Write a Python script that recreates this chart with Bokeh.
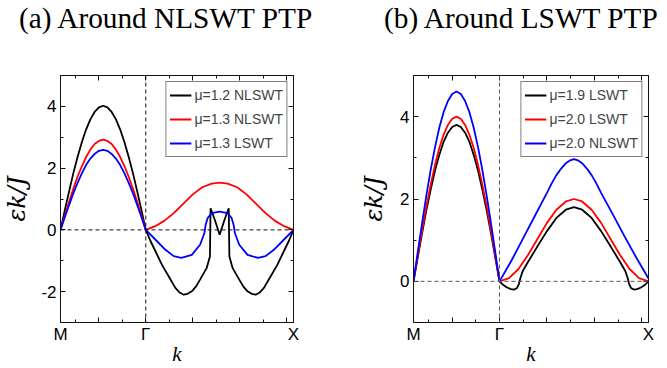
from bokeh.plotting import figure
from bokeh.models import (FixedTicker, LinearAxis, Span, Legend, LegendItem,
                          Range1d, Div)
from bokeh.layouts import row, column
from bokeh.embed import file_html
from bokeh.resources import INLINE

# ---------------- data ----------------
K_M, K_G, K_X = -1.8138, 0.0, 3.1416
sym_labels = ["M", "Γ", "X"]
k_major = [-1.0, 1.0, 2.0, 3.0]
k_minor = [-1.5, -0.5, 0.5, 1.5, 2.5]

# M -> Gamma sampling
k_mg = [-1.8138, -1.723, -1.632, -1.542, -1.451, -1.360, -1.270, -1.179, -1.088, -0.998,
        -0.907, -0.816, -0.726, -0.635, -0.544, -0.453, -0.363, -0.272, -0.181, -0.091, 0.0]

# panel (a): around NLSWT PTP
a_black_mg = [0, 0.63, 1.24, 1.83, 2.36, 2.84, 3.25, 3.58, 3.82, 3.97, 4.02,
              3.97, 3.82, 3.58, 3.25, 2.84, 2.36, 1.83, 1.24, 0.63, 0]
a_red_mg = [0, 0.46, 0.90, 1.33, 1.72, 2.06, 2.36, 2.60, 2.78, 2.88, 2.92,
            2.88, 2.78, 2.60, 2.36, 2.06, 1.72, 1.33, 0.90, 0.46, 0]
a_blue_mg = [0, 0.41, 0.80, 1.18, 1.52, 1.83, 2.10, 2.31, 2.46, 2.56, 2.59,
             2.56, 2.46, 2.31, 2.10, 1.83, 1.52, 1.18, 0.80, 0.41, 0]

a_black_gx_k = [0, 0.1, 0.208, 0.35, 0.489, 0.629, 0.72, 0.804, 0.89, 0.979, 1.07, 1.154,
                1.294, 1.364, 1.378, 1.469, 1.571, 1.673, 1.764, 1.778, 1.848, 1.988, 2.072,
                2.163, 2.252, 2.338, 2.422, 2.513, 2.653, 2.792, 2.934, 3.042, 3.1416]
a_black_gx = [0, -0.36, -0.70, -1.15, -1.51, -1.88, -2.03, -2.10, -2.07, -1.99, -1.83, -1.61,
              -1.24, -0.86, 0.70, 0.32, -0.16, 0.32, 0.70, -0.86, -1.24, -1.61, -1.83,
              -1.99, -2.07, -2.10, -2.03, -1.88, -1.51, -1.15, -0.70, -0.36, 0]
a_red_gx_k = [0, 0.2, 0.4, 0.6, 0.8, 1.0, 1.2, 1.4, 1.571, 1.742, 1.942, 2.142, 2.342,
              2.542, 2.742, 2.942, 3.1416]
a_red_gx = [0, 0.12, 0.30, 0.55, 0.85, 1.15, 1.38, 1.50, 1.53, 1.50, 1.38, 1.15, 0.85,
            0.55, 0.30, 0.12, 0]
a_blue_gx_k = [0, 0.208, 0.418, 0.595, 0.755, 0.979, 1.154, 1.246, 1.273, 1.315, 1.399,
               1.571, 1.743, 1.827, 1.869, 1.896, 1.988, 2.163, 2.387, 2.547, 2.724,
               2.934, 3.1416]
a_blue_gx = [0, -0.32, -0.645, -0.85, -0.91, -0.81, -0.48, -0.11, 0.16, 0.38, 0.54,
             0.59, 0.54, 0.38, 0.16, -0.11, -0.48, -0.81, -0.91, -0.85, -0.645, -0.32, 0]
a_labels = ["μ=1.2 NLSWT", "μ=1.3 NLSWT", "μ=1.3 LSWT"]

# panel (b): around LSWT PTP
b_black_mg = [0, 0.59, 1.17, 1.73, 2.23, 2.69, 3.07, 3.39, 3.61, 3.75, 3.80,
              3.75, 3.61, 3.39, 3.07, 2.69, 2.23, 1.73, 1.17, 0.59, 0]
b_red_mg = [0, 0.63, 1.24, 1.82, 2.35, 2.83, 3.24, 3.56, 3.80, 3.95, 4.00,
            3.95, 3.80, 3.56, 3.24, 2.83, 2.35, 1.82, 1.24, 0.63, 0]
b_blue_mg = [0, 0.72, 1.42, 2.09, 2.71, 3.26, 3.73, 4.11, 4.38, 4.55, 4.61,
             4.55, 4.38, 4.11, 3.73, 3.26, 2.71, 2.09, 1.42, 0.72, 0]

b_black_gx_k = [0, 0.08, 0.16, 0.24, 0.31, 0.37, 0.41, 0.44, 0.49, 0.6, 0.8, 1.0, 1.2, 1.4,
                1.571, 1.742, 1.942, 2.142, 2.342, 2.542, 2.652, 2.702, 2.732, 2.772, 2.832,
                2.902, 2.982, 3.062, 3.1416]
b_black_gx = [0, -0.09, -0.15, -0.19, -0.20, -0.16, -0.06, 0.08, 0.25, 0.47, 0.85, 1.22,
              1.54, 1.74, 1.80, 1.74, 1.54, 1.22, 0.85, 0.47, 0.25, 0.08, -0.06, -0.16,
              -0.20, -0.19, -0.15, -0.09, 0]
b_red_gx_k = [0, 0.2, 0.4, 0.6, 0.8, 1.0, 1.2, 1.4, 1.571, 1.742, 1.942, 2.142, 2.342,
              2.542, 2.742, 2.942, 3.1416]
b_red_gx = [0, 0.08, 0.30, 0.64, 1.03, 1.42, 1.74, 1.94, 2.00, 1.94, 1.74, 1.42, 1.03,
            0.64, 0.30, 0.08, 0]
b_blue_gx_k = [0, 0.25, 0.5, 0.75, 1.0, 1.1, 1.2, 1.3, 1.4, 1.49, 1.571, 1.652, 1.742,
               1.842, 1.942, 2.042, 2.142, 2.392, 2.642, 2.892, 3.1416]
b_blue_gx = [0, 0.50, 1.05, 1.60, 2.15, 2.38, 2.58, 2.74, 2.87, 2.94, 2.97, 2.94, 2.87,
             2.74, 2.58, 2.38, 2.15, 1.62, 1.08, 0.56, 0.07]
b_labels = ["μ=1.9 LSWT", "μ=2.0 LSWT", "μ=2.0 NLSWT"]

COLORS = ["#000000", "#ff0000", "#0000ff"]
SANS = "Liberation Sans"
SERIF = "Liberation Serif"
HEAD = 40          # height of the title strip
FRAME_H = 248
BOTTOM = 45


def style_axis(ax):
    ax.major_tick_in = 5
    ax.major_tick_out = 0
    ax.minor_tick_in = 3
    ax.minor_tick_out = 0
    ax.axis_line_color = "#111111"
    ax.major_tick_line_color = "#111111"
    ax.minor_tick_line_color = "#111111"
    ax.axis_line_width = 1
    ax.major_label_text_font = SANS
    ax.major_label_text_font_size = "17px"
    ax.major_label_text_color = "black"


def build(y_lo_hi, y_major, y_minor, series, labels, dash_color,
          left, right, frame_w, ylab_standoff):
    p = figure(width=left + frame_w + right, height=35 + FRAME_H + BOTTOM,
               x_range=Range1d(K_M, K_X), y_range=Range1d(*y_lo_hi),
               x_axis_type=None, y_axis_type=None,
               output_backend="svg", toolbar_location=None,
               min_border_left=left, min_border_right=right,
               min_border_top=35, min_border_bottom=BOTTOM)
    p.outline_line_color = None
    p.grid.visible = False
    p.background_fill_color = "white"
    p.border_fill_color = "white"

    x_ticks = [K_M, k_major[0], K_G] + k_major[1:] + [K_X]
    over = {t: "" for t in x_ticks}
    over[K_M], over[K_G], over[K_X] = sym_labels
    xb = LinearAxis(ticker=FixedTicker(ticks=x_ticks, minor_ticks=k_minor),
                    major_label_overrides=over, axis_label="k")
    style_axis(xb)
    xb.major_label_standoff = 2
    xb.axis_label_standoff = -5
    xb.axis_label_text_font = SERIF
    xb.axis_label_text_font_style = "italic"
    xb.axis_label_text_font_size = "21px"
    xb.axis_label_text_color = "black"
    p.add_layout(xb, "below")

    xt = LinearAxis(ticker=FixedTicker(ticks=x_ticks, minor_ticks=k_minor),
                    major_label_overrides={t: "" for t in x_ticks})
    style_axis(xt)
    xt.major_label_text_font_size = "0px"
    xt.major_label_standoff = 0
    p.add_layout(xt, "above")

    yl = LinearAxis(ticker=FixedTicker(ticks=y_major, minor_ticks=y_minor),
                    major_label_overrides={t: str(t) for t in y_major},
                    axis_label="εk/J")
    style_axis(yl)
    yl.major_label_standoff = 4
    yl.axis_label_standoff = ylab_standoff
    yl.axis_label_text_font = "DejaVu Serif"
    yl.axis_label_text_font_style = "italic"
    yl.axis_label_text_font_size = "24px"
    yl.axis_label_text_color = "black"
    p.add_layout(yl, "left")

    yr = LinearAxis(ticker=FixedTicker(ticks=y_major, minor_ticks=y_minor),
                    major_label_overrides={t: "" for t in y_major})
    style_axis(yr)
    yr.major_label_text_font_size = "0px"
    yr.major_label_standoff = 0
    p.add_layout(yr, "right")

    p.add_layout(Span(location=0, dimension="width", line_dash="4 3",
                      line_color=dash_color, line_width=1))
    p.add_layout(Span(location=K_G, dimension="height", line_dash="4 3",
                      line_color=dash_color, line_width=1))

    items = []
    for (kk, ee), col, lab in zip(series, COLORS, labels):
        r = p.line(kk, ee, line_color=col, line_width=1.8)
        items.append(LegendItem(label=lab, renderers=[r]))
    leg = Legend(items=items, location="top_right", margin=6, padding=3, spacing=4,
                 glyph_width=22, glyph_height=20, label_height=20, label_standoff=3,
                 label_text_font=SANS, label_text_font_size="14px",
                 border_line_color="black", border_line_width=1,
                 background_fill_color="white", background_fill_alpha=1)
    p.add_layout(leg)
    return p


def head(text, width, pad_left):
    html = ('<div style="padding:4px 0 0 %dpx;font-family:\'Liberation Serif\',serif;'
            'font-size:29.3px;line-height:1;white-space:nowrap;color:#000;">%s</div>'
            % (pad_left, text))
    return Div(text=html, width=width, height=HEAD, margin=0)


series_a = [
    (k_mg + a_black_gx_k[1:], a_black_mg + a_black_gx[1:]),
    (k_mg + a_red_gx_k[1:], a_red_mg + a_red_gx[1:]),
    (k_mg + a_blue_gx_k[1:], a_blue_mg + a_blue_gx[1:]),
]
series_b = [
    (k_mg + b_black_gx_k[1:], b_black_mg + b_black_gx[1:]),
    (k_mg + b_red_gx_k[1:], b_red_mg + b_red_gx[1:]),
    (k_mg + b_blue_gx_k[1:], b_blue_mg + b_blue_gx[1:]),
]

pa = build((-3, 5), [-2, 0, 2, 4], [-3, -1, 1, 3, 5],
           series_a, a_labels, "#111111", 57, 40, 236, 7)
pb = build((-1, 5), [0, 2, 4], [-1, 1, 3, 5],
           series_b, b_labels, "#555555", 80, 19, 235, 9)

ha = head("(a) Around NLSWT PTP", 333, 19)
hb = head("(b) Around LSWT PTP", 334, 51)

layout = column(row(ha, hb, spacing=0), row(pa, pb, spacing=0), spacing=0)
open("out.html", "w").write(file_html(layout, INLINE))
